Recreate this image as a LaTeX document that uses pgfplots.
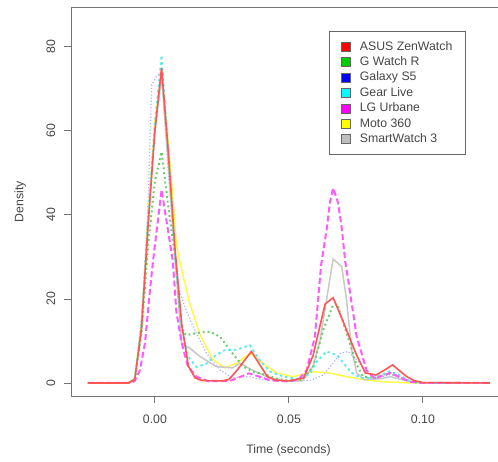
\documentclass[border=0pt]{standalone}
\usepackage{fontspec}
\setmainfont{Liberation Sans}
\usepackage{pgfplots}
\pgfplotsset{compat=1.18}
\definecolor{cRed}{RGB}{255,85,85}
\definecolor{cGreen}{RGB}{100,205,100}
\definecolor{cBlue}{RGB}{175,175,255}
\definecolor{cCyan}{RGB}{90,235,235}
\definecolor{cMag}{RGB}{255,90,255}
\definecolor{cYel}{RGB}{255,250,70}
\definecolor{cGrey}{RGB}{200,200,200}
\definecolor{lRed}{RGB}{255,0,0}
\definecolor{lGreen}{RGB}{0,205,0}
\definecolor{lBlue}{RGB}{0,0,255}
\definecolor{lCyan}{RGB}{0,255,255}
\definecolor{lMag}{RGB}{255,0,255}
\definecolor{lYel}{RGB}{255,255,0}
\definecolor{lGrey}{RGB}{190,190,190}
\definecolor{txt}{RGB}{70,70,70}
\newcommand{\sq}[1]{\path[draw=none,fill=none] (0pt,0pt) rectangle (17.5pt,0.1pt);\filldraw[fill=#1, draw=black!60, line width=0.6pt, solid] (0.5pt,-4.5pt) rectangle (10pt,4.5pt);}
\begin{document}
\fontsize{12.3}{14.8}\selectfont
\begin{tikzpicture}
\begin{axis}[
  scale only axis, width=435pt, height=389pt,
  xmin=-0.0313, xmax=0.1310, ymin=-3.1, ymax=89.5,
  axis line style={black!55, line width=0.9pt},
  tick style={black!55, line width=0.9pt},
  tick align=outside, major tick length=7pt,
  xtick pos=left, ytick pos=left,
  xtick={0,0.05,0.1}, xticklabels={0.00,0.05,0.10},
  ytick={0,20,40,60,80}, yticklabels={0,20,40,60,80},
  xticklabel shift=8pt, yticklabel shift=4.5pt,
  yticklabel style={rotate=90, anchor=south},
  ticklabel style={text=txt, font=\fontsize{12.3}{14}\selectfont},
  xlabel={Time (seconds)}, ylabel={Density},
  label style={text=txt, font=\fontsize{12.3}{14}\selectfont},
  xlabel style={at={(axis description cs:0.5,-0.1388)}, anchor=center},
  ylabel style={at={(axis description cs:-0.117,0.5)}, anchor=center, rotate=0},
  legend style={at={(0.593,0.939)}, anchor=north west, draw=black!60, line width=0.8pt,
    font=\fontsize{12.3}{14}\selectfont, text=txt, row sep=0.7pt, inner xsep=11pt, inner ysep=8pt},
  legend cell align=left,
]
\coordinate (bl) at (rel axis cs:0,0);
\coordinate (tr) at (rel axis cs:1,1);
\addlegendimage{legend image code/.code={\sq{lRed}}}
\addlegendentry{ASUS ZenWatch}
\addlegendimage{legend image code/.code={\sq{lGreen}}}
\addlegendentry{G Watch R}
\addlegendimage{legend image code/.code={\sq{lBlue}}}
\addlegendentry{Galaxy S5}
\addlegendimage{legend image code/.code={\sq{lCyan}}}
\addlegendentry{Gear Live}
\addlegendimage{legend image code/.code={\sq{lMag}}}
\addlegendentry{LG Urbane}
\addlegendimage{legend image code/.code={\sq{lYel}}}
\addlegendentry{Moto 360}
\addlegendimage{legend image code/.code={\sq{lGrey}}}
\addlegendentry{SmartWatch 3}

% Galaxy S5
\addplot[forget plot, cBlue, line width=1.2pt, dash pattern=on 1.2pt off 2pt] coordinates {
(-0.025,0) (-0.0095,0) (-0.0075,0.7) (-0.0062,7.9) (-0.0044,20) (-0.0025,43.6) (-0.0012,71) (0.0006,73) (0.0025,74)
(0.005,50) (0.0075,30) (0.0087,23) (0.0112,18) (0.0143,13.4) (0.0193,7) (0.0243,3.1) (0.029,1.2) (0.035,1.5) (0.040,0.8)
(0.050,0.5) (0.058,0.6) (0.0628,1.9) (0.0665,4.7) (0.069,7) (0.0721,7.5) (0.0753,5.5) (0.079,2.4) (0.084,1.2) (0.0875,2)
(0.091,1.5) (0.095,0.4) (0.100,0) (0.125,0)};
% Moto 360
\addplot[forget plot, cYel, line width=1.5pt] coordinates {
(-0.025,0) (-0.010,0) (-0.0075,1) (-0.005,14) (-0.0025,40) (0.0,62) (0.0025,74) (0.005,57) (0.0067,44) (0.008,33)
(0.010,27) (0.013,19) (0.0168,11.5) (0.0217,5.5) (0.026,3.6) (0.0305,4.7) (0.0354,7) (0.0403,4.7) (0.0454,2.4)
(0.0515,1.5) (0.059,2.7) (0.065,2.4) (0.0715,1.5) (0.079,0.7) (0.085,0.3) (0.095,0) (0.125,0)};
% SmartWatch 3
\addplot[forget plot, cGrey, line width=1.5pt] coordinates {
(-0.025,0) (-0.010,0) (-0.0075,1) (-0.005,13) (-0.0025,38) (0.0,60) (0.0025,73) (0.005,52) (0.0075,30) (0.010,9.5)
(0.013,8.3) (0.0168,6.3) (0.023,3.9) (0.029,3.6) (0.0317,4.7) (0.0366,3) (0.0417,1.5) (0.047,0.5) (0.055,0.5) (0.059,3.9)
(0.0616,10) (0.0646,22) (0.0665,29.5) (0.0697,27.7) (0.0715,19.8) (0.0734,7.9) (0.0753,2.4) (0.078,0.8) (0.084,1)
(0.088,1.5) (0.092,0.8) (0.097,0.2) (0.100,0) (0.125,0)};
% G Watch R
\addplot[forget plot, cGreen, line width=2pt, dash pattern=on 1.8pt off 3pt] coordinates {
(-0.025,0) (-0.010,0) (-0.0075,0.8) (-0.005,12) (-0.0025,33) (0.0,48) (0.0025,55) (0.005,42) (0.008,27.7) (0.0093,17)
(0.0105,12) (0.0118,11.4) (0.0168,12) (0.0205,12.2) (0.0243,11) (0.029,7) (0.033,3.9) (0.0366,2.7) (0.0417,1.9)
(0.045,1.1) (0.050,0.5) (0.055,0.8) (0.059,3.8) (0.0628,12.6) (0.0665,18.6) (0.068,18.8) (0.072,11) (0.075,4.7)
(0.0777,1.5) (0.082,1.2) (0.085,2) (0.088,2.3) (0.091,1.5) (0.095,0.3) (0.100,0) (0.125,0)};
% Gear Live
\addplot[forget plot, cCyan, line width=1.8pt, dash pattern=on 2.5pt off 3pt] coordinates {
(-0.025,0) (-0.010,0) (-0.0075,1) (-0.005,14) (-0.0025,40) (0.0,62) (0.0025,78) (0.005,55) (0.0075,30) (0.010,13)
(0.0124,6.3) (0.0155,3.8) (0.019,4.5) (0.0225,6.5) (0.026,7.8) (0.0305,7.9) (0.0354,9) (0.039,5.5) (0.043,2.7)
(0.048,1.5) (0.053,1) (0.056,1.5) (0.058,2.4) (0.0603,5) (0.064,7.5) (0.0678,6.7) (0.0734,2.4) (0.077,1.2) (0.080,1.2)
(0.084,1.8) (0.0875,2.8) (0.091,2) (0.095,0.5) (0.100,0) (0.125,0)};
% LG Urbane
\addplot[forget plot, cMag, line width=2pt, dash pattern=on 6pt off 3pt] coordinates {
(-0.025,0) (-0.009,0) (-0.0075,0.5) (-0.0056,3) (-0.0037,9.5) (-0.002,21) (-0.0007,29) (0.0025,46) (0.0067,29)
(0.008,17) (0.010,9.5) (0.0123,4) (0.0155,1.5) (0.020,0.4) (0.028,0.5) (0.032,1.5) (0.035,2.3) (0.039,1.5) (0.043,0.6)
(0.050,0.4) (0.0535,0.8) (0.0566,3) (0.0597,11) (0.062,28) (0.0642,37) (0.0653,43) (0.0665,46.4) (0.0683,43)
(0.0697,37) (0.071,29) (0.072,25) (0.0753,11) (0.079,3) (0.082,1) (0.085,1.8) (0.088,2.4) (0.091,1.5) (0.095,0.3)
(0.100,0) (0.125,0)};
% ASUS ZenWatch
\addplot[forget plot, cRed, line width=1.6pt] coordinates {
(-0.025,0) (-0.010,0) (-0.0075,0.8) (-0.005,13) (-0.0025,38) (0.0,60) (0.0025,75) (0.005,55) (0.0075,32) (0.010,14)
(0.0125,4) (0.015,1.2) (0.0175,0.6) (0.025,0.5) (0.0275,0.8) (0.030,2.5) (0.033,5) (0.036,7.5) (0.039,4.5) (0.042,1.5)
(0.045,0.7) (0.050,0.5) (0.0555,1.2) (0.059,6.5) (0.0635,18.8) (0.0665,20.3) (0.070,15) (0.075,7) (0.0785,2.4)
(0.0825,1.9) (0.0855,3) (0.0887,4.3) (0.0915,2.8) (0.094,1.5) (0.097,0.5) (0.100,0.1) (0.125,0)};
\end{axis}
\pgfresetboundingbox
\path ([shift={(-71pt,-65pt)}]bl) rectangle ([shift={(-8pt,7pt)}]tr);
\end{tikzpicture}
\end{document}
